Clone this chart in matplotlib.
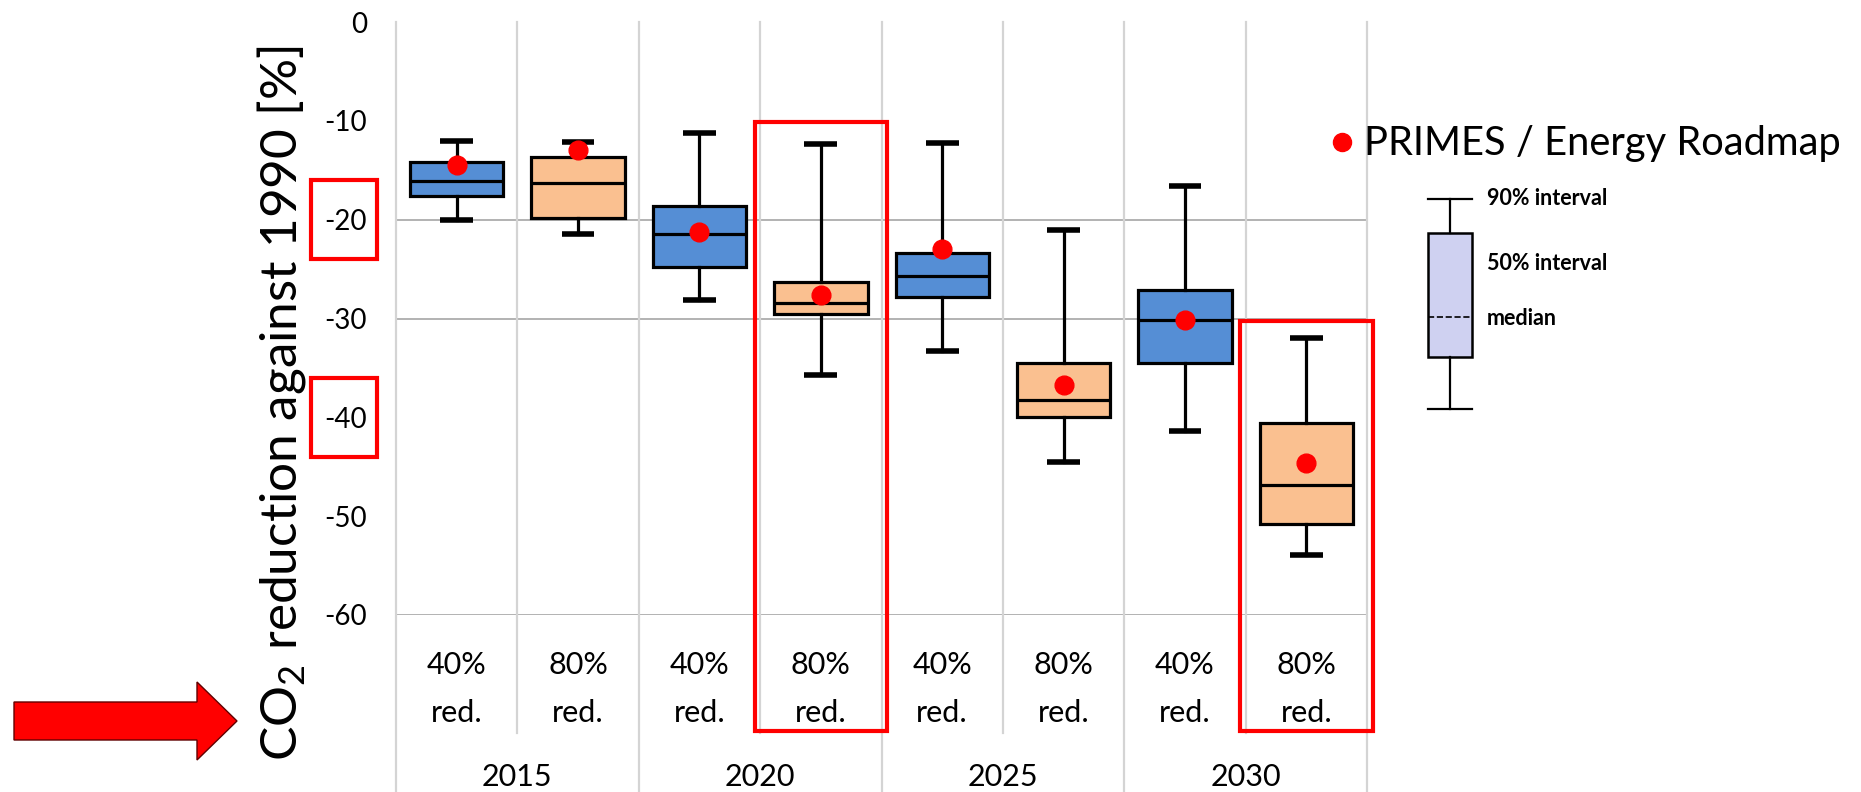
import matplotlib.pyplot as plt
import matplotlib.patches as mpatches
from matplotlib.lines import Line2D

plt.rcParams['font.family'] = ['Lato', 'DejaVu Sans']
plt.rcParams['mathtext.fontset'] = 'custom'
plt.rcParams['mathtext.rm'] = 'Lato'
plt.rcParams['axes.unicode_minus'] = False

# category axis: two scenarios per year
years = ['2015', '2020', '2025', '2030']
scenarios = ['40%\nred.', '80%\nred.']

# box statistics, one entry per column (2015 40%, 2015 80%, 2020 40%, ...)
whisker_high = [-12.0, -12.1, -11.2, -12.3, -12.2, -21.0, -16.6, -32.0]
box_top = [-14.2, -13.7, -18.6, -26.3, -23.4, -34.5, -27.1, -40.6]
medians = [-16.1, -16.3, -21.4, -28.4, -25.7, -38.2, -30.2, -46.8]
box_bottom = [-17.6, -19.8, -24.8, -29.5, -27.8, -40.0, -34.5, -50.8]
whisker_low = [-20.0, -21.5, -28.1, -35.7, -33.3, -44.5, -41.4, -53.9]
primes = [-14.5, -12.9, -21.2, -27.6, -23.0, -36.7, -30.2, -44.6]

# explanation key (illustrative box)
key_stats = dict(whishi=1.0, q3=0.84, med=0.44, q1=0.25, whislo=0.0)
key_labels = ['90% interval', '50% interval', 'median']

# highlighted items
highlight_ticks = [-20, -40]
highlight_cols = [3, 7]

box_colors = ['#558ED5', '#FAC090'] * 4

fig = plt.figure(figsize=(18.61, 7.92), dpi=100)
ax = fig.add_axes([0.2128, 0.2235, 0.5218, 0.7487])

stats = []
for hi, q3, med, q1, lo in zip(whisker_high, box_top, medians, box_bottom, whisker_low):
    stats.append(dict(whishi=hi, q3=q3, med=med, q1=q1, whislo=lo))

pos = list(range(len(stats)))
bp = ax.bxp(stats, positions=pos, widths=0.77, capwidths=0.27, patch_artist=True,
            showfliers=False,
            boxprops=dict(linewidth=2.3, edgecolor='black'),
            whiskerprops=dict(linewidth=2.3, color='black'),
            capprops=dict(linewidth=4, color='black', solid_capstyle='butt'),
            medianprops=dict(linewidth=2.3, color='black'))
for patch, c in zip(bp['boxes'], box_colors):
    patch.set_facecolor(c)

ax.plot(pos, primes, 'o', color='red', ms=13.5, zorder=5)

ax.set_xlim(-0.5, 7.5)
ax.set_ylim(-60, 0)

# grid lines (only a few, as in the source chart)
for v in [-20, -30, -60]:
    ax.axhline(v, color='#A6A6A6', lw=1.2, zorder=0.5)

xtrans = ax.get_xaxis_transform()
for b in [-0.5, 1.5, 3.5, 5.5, 7.5]:
    ax.plot([b, b], [1, -0.31], transform=xtrans, color='#D4D4D4', lw=1.6,
            clip_on=False, zorder=0.5)
for b in [0.5, 2.5, 4.5, 6.5]:
    ax.plot([b, b], [1, -0.199], transform=xtrans, color='#D4D4D4', lw=1.6,
            clip_on=False, zorder=0.5)

for s in ax.spines.values():
    s.set_visible(False)

ax.set_xticks(pos)
ax.set_xticklabels(scenarios * len(years), fontsize=22, linespacing=1.85)
ax.tick_params(axis='x', length=0, pad=26)
for i, y in enumerate(years):
    ax.text(2 * i + 0.5, -0.2884, y, transform=xtrans, ha='center', va='baseline',
            fontsize=22)

ax.set_yticks(range(-60, 1, 10))
ax.tick_params(axis='y', length=0, pad=21, labelsize=20)

ax.set_ylabel(r'CO$_{\mathregular{2}}$ reduction against 1990 [%]', fontsize=37,
              va='baseline')
ax.yaxis.set_label_coords(-0.102, 0.357)

# red highlight frames
ytrans = ax.get_yaxis_transform()
for v in highlight_ticks:
    ax.add_patch(mpatches.Rectangle((-0.0875, v - 4), 0.068, 8, transform=ytrans,
                                    fill=False, ec='red', lw=3, clip_on=False))
for c, top in zip(highlight_cols, [-10.1, -30.3]):
    ax.add_patch(mpatches.Rectangle((c - 0.545, -71.7), 1.09, top + 71.7,
                                    fill=False, ec='red', lw=3, clip_on=False,
                                    zorder=6))

# arrow pointing at the axis title
fig.add_artist(mpatches.FancyArrow(0.14, 0.71, 2.23, 0, width=0.38, head_width=0.78,
                                   head_length=0.40, length_includes_head=True,
                                   transform=fig.dpi_scale_trans, fc='red',
                                   ec='#600000', lw=1))

# legend for the PRIMES points
handle = Line2D([], [], marker='o', ls='', color='red', ms=13)
fig.legend([handle], ['PRIMES / Energy Roadmap'], loc='center left',
           bbox_to_anchor=(1332 / 1861, 1 - 144 / 792), frameon=False, fontsize=28.7,
           handlelength=0.5, handletextpad=0.3, borderpad=0, borderaxespad=0)

# box explanation key
kax = fig.add_axes([1400 / 1861, 1 - 419 / 792, 100 / 1861, 230 / 792])
kb = kax.bxp([key_stats], positions=[0.5], widths=0.44, capwidths=0.44,
             patch_artist=True, showfliers=False,
             boxprops=dict(linewidth=1.8, edgecolor='black', facecolor='#CFD1F1'),
             whiskerprops=dict(linewidth=1.6, color='black'),
             capprops=dict(linewidth=1.6, color='black'),
             medianprops=dict(linewidth=1.2, color='black', linestyle='--'))
kax.set_xlim(0, 1)
kax.set_ylim(-0.0476, 1.0476)
kax.axis('off')
for lab, yv in zip(key_labels, [1.0, 0.695, 0.43]):
    kax.text(0.87, yv, lab, ha='left', va='center', fontsize=15.5, fontweight='bold')

fig.savefig('out.png', dpi=100)
